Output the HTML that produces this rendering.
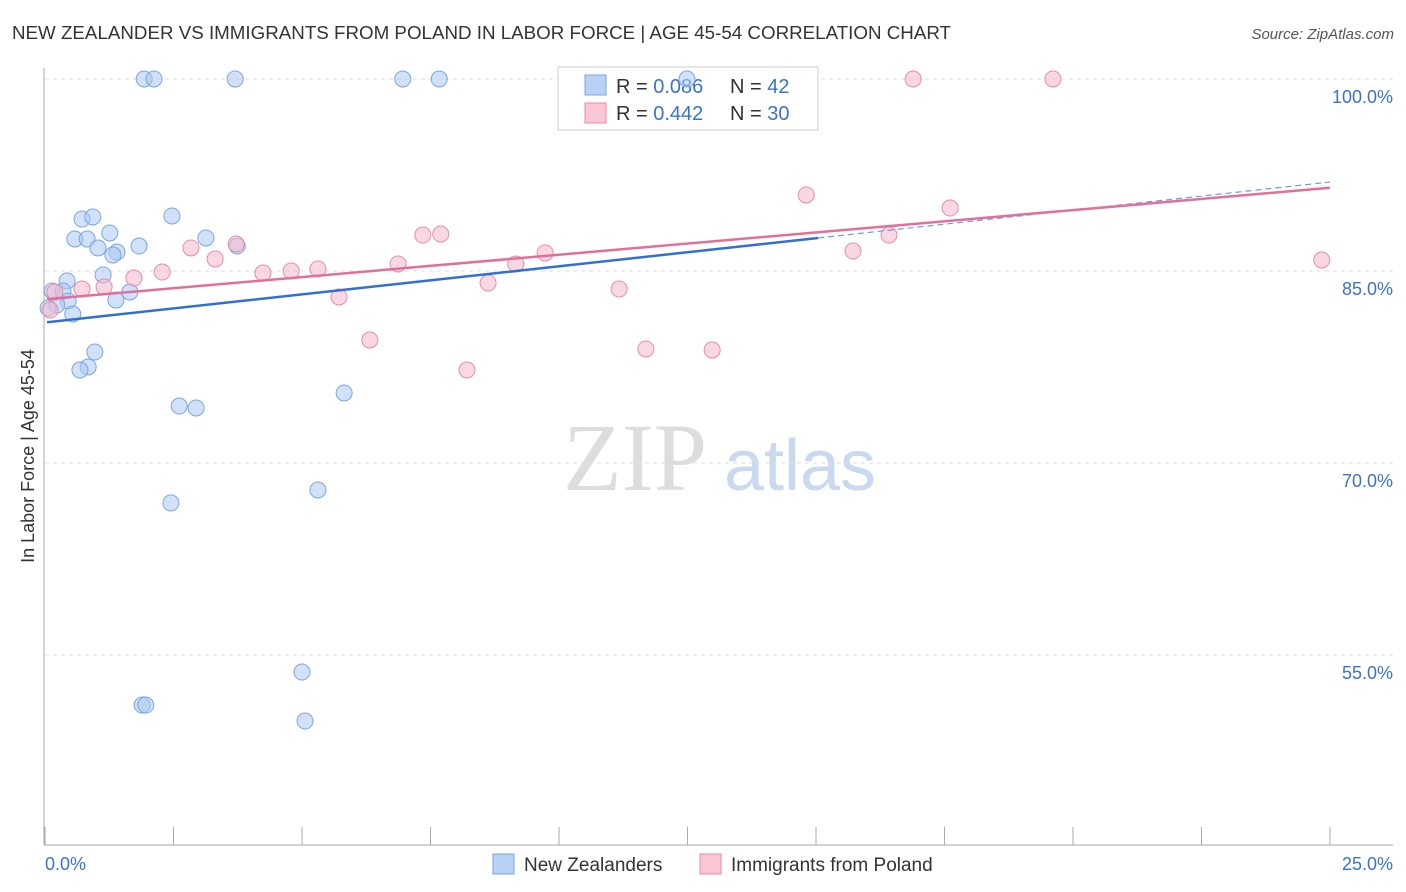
<!DOCTYPE html>
<html><head><meta charset="utf-8"><style>
body{margin:0;background:#fff;font-family:"Liberation Sans",sans-serif;}
svg{display:block}
</style></head><body>
<svg width="1406" height="892" xmlns="http://www.w3.org/2000/svg">
<text x="12" y="39" font-size="18" fill="#333" textLength="939" lengthAdjust="spacingAndGlyphs">NEW ZEALANDER VS IMMIGRANTS FROM POLAND IN LABOR FORCE | AGE 45-54 CORRELATION CHART</text>
<text x="1394" y="39" font-size="15" fill="#555" font-style="italic" text-anchor="end">Source: ZipAtlas.com</text>
<g>
<text x="635" y="490" font-size="96" fill="#ddd" font-family="Liberation Serif,serif" text-anchor="middle">ZIP</text>
<text x="800" y="490" font-size="72" fill="#c9daf0" text-anchor="middle">atlas</text>
</g>
<g id="grid"></g>
<g id="axes"></g>
<g>
<rect x="558" y="67" width="260" height="63" fill="#fff" stroke="#ccc"/>
<rect x="585" y="75" width="21" height="20" fill="#b8d2f5" stroke="#7aa7e0"/>
<rect x="585" y="103" width="21" height="20" fill="#f9c6d6" stroke="#e98aab"/>
<text x="616" y="93" font-size="20" fill="#333">R = <tspan fill="#3a73c8">0.086</tspan></text>
<text x="730" y="93" font-size="20" fill="#333">N = <tspan fill="#3a73c8">42</tspan></text>
<text x="616" y="120" font-size="20" fill="#333">R = <tspan fill="#3a73c8">0.442</tspan></text>
<text x="730" y="120" font-size="20" fill="#333">N = <tspan fill="#3a73c8">30</tspan></text>
</g>
<g id="marks"></g>
<text transform="translate(34,456) rotate(-90)" font-size="18" fill="#333" text-anchor="middle">In Labor Force | Age 45-54</text>
<g>
<rect x="493" y="854" width="21" height="20" fill="#b8d2f5" stroke="#7aa7e0"/>
<text x="524" y="871" font-size="19" fill="#333">New Zealanders</text>
<rect x="700" y="854" width="21" height="20" fill="#f9c6d6" stroke="#e98aab"/>
<text x="731" y="871" font-size="19" fill="#333">Immigrants from Poland</text>
</g>
</svg>
<script>
const yTicks=[100,85,70,55];
const yTickLabels=["100.0%","85.0%","70.0%","55.0%"];
const xTickLabels=["0.0%","25.0%"];
const blueX=[1.93,2.12,3.70,6.96,7.67,12.49,0.72,0.93,2.47,0.58,0.82,1.26,1.03,1.40,1.32,1.83,3.13,3.74,0.43,1.13,0.14,0.35,1.65,1.38,0.45,0.23,0.54,0.06,0.97,0.84,0.68,2.61,2.94,5.82,5.31,2.45,5.00,1.89,1.96,5.06];
const blueY=[100,100,100,100,100,100,89.06,89.22,89.30,87.5,87.5,87.97,86.80,86.48,86.25,86.95,87.58,86.95,84.22,84.69,83.44,83.44,83.36,82.73,82.66,82.34,81.64,82.11,78.67,77.5,77.27,74.45,74.30,75.47,67.89,66.88,53.67,51.09,51.09,49.84];
const pinkX=[16.89,19.61,14.81,17.61,16.42,15.72,24.84,2.84,3.31,3.72,2.28,1.73,4.24,4.79,5.31,6.87,7.35,7.70,9.16,9.73,8.62,5.72,6.32,8.21,11.17,11.69,12.98,1.15,0.72,0.19,0.10];
const pinkY=[100,100,90.94,89.92,87.81,86.56,85.86,86.80,85.94,87.11,84.92,84.45,84.84,85.0,85.16,85.55,87.81,87.89,85.55,86.41,84.06,82.97,79.61,77.27,83.59,78.91,78.83,83.75,83.59,83.36,81.95];
const blueTrendX=[0.04,15.04,25];
const blueTrendY=[81.0,87.58,91.95];
const pinkTrendX=[0.04,25];
const pinkTrendY=[82.8,91.5];

const NS="http://www.w3.org/2000/svg";
const xs=v=>45+v/25*1285;
const ys=v=>79+(100-v)*12.8;
function mk(tag,attrs,parent){const e=document.createElementNS(NS,tag);for(const k in attrs)e.setAttribute(k,attrs[k]);parent.appendChild(e);return e;}
const grid=document.getElementById('grid'),axes=document.getElementById('axes'),marks=document.getElementById('marks');
yTicks.forEach((t,i)=>{
 const l=mk('line',{x1:45,x2:1393,y1:ys(t),y2:ys(t),stroke:'#ddd','stroke-dasharray':'4,4'},grid);
 
 
 const tx=mk('text',{x:1393,y:ys(t)+24,'font-size':18,fill:'#3a73c8','text-anchor':'end'},axes);
 tx.textContent=yTickLabels[i];
 
 
});
let a=mk('line',{x1:44,x2:44,y1:68,y2:845,stroke:'#aaa'},axes);


a=mk('line',{x1:44,x2:1393,y1:845,y2:845,stroke:'#aaa'},axes);


for(let i=0;i<=10;i++){
 const t=mk('line',{x1:xs(i*2.5),x2:xs(i*2.5),y1:827,y2:845,stroke:'#aaa'},axes);
 
 
}
let xl=mk('text',{x:45,y:870,'font-size':18,fill:'#3a73c8'},axes);xl.textContent=xTickLabels[0];


xl=mk('text',{x:1393,y:870,'font-size':18,fill:'#3a73c8','text-anchor':'end'},axes);xl.textContent=xTickLabels[1];



function pts(X,Y,fill,stroke,name){
 X.forEach((x,i)=>{
  const c=mk('circle',{cx:xs(x),cy:ys(Y[i]),r:8,fill:fill,'fill-opacity':0.55,stroke:stroke,'stroke-width':1},marks);
  
  
 });
}
pts(blueX,blueY,'#a9c8f2','#7aa7e0','new-zealander-point');
pts(pinkX,pinkY,'#f6b8cc','#e98aab','poland-immigrant-point');
let ln=mk('line',{x1:xs(blueTrendX[0]),y1:ys(blueTrendY[0]),x2:xs(blueTrendX[1]),y2:ys(blueTrendY[1]),stroke:'#2f6fd6','stroke-width':2.5},marks);


ln=mk('line',{x1:xs(blueTrendX[1]),y1:ys(blueTrendY[1]),x2:xs(blueTrendX[2]),y2:ys(blueTrendY[2]),stroke:'#6c9ce0','stroke-width':1.2,'stroke-dasharray':'6,4'},marks);


ln=mk('line',{x1:xs(pinkTrendX[0]),y1:ys(pinkTrendY[0]),x2:xs(pinkTrendX[1]),y2:ys(pinkTrendY[1]),stroke:'#e0709a','stroke-width':2.5},marks);


</script>
</body></html>
